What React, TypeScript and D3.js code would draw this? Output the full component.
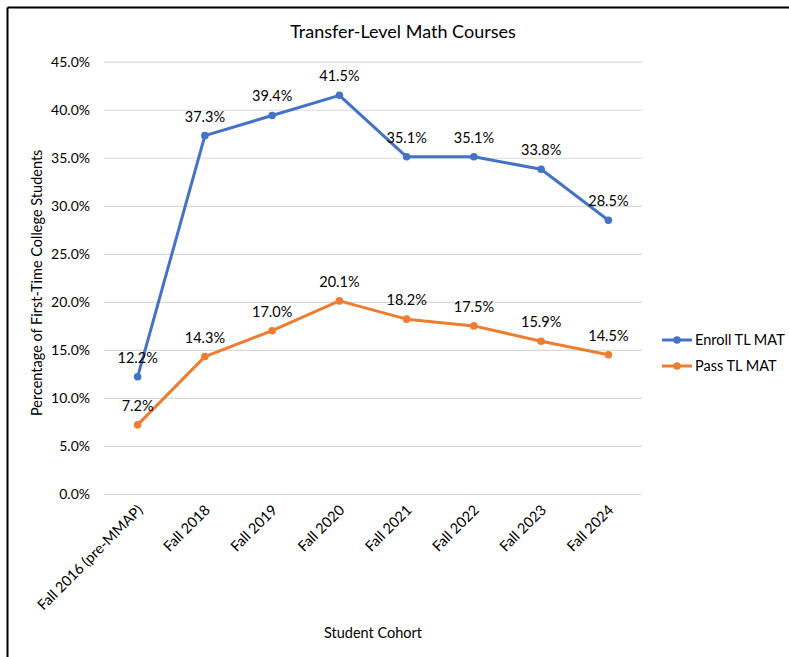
import React, { useRef, useEffect } from 'react';
import * as d3 from 'd3';

const cohorts = ['Fall 2016 (pre-MMAP)', 'Fall 2018', 'Fall 2019', 'Fall 2020', 'Fall 2021', 'Fall 2022', 'Fall 2023', 'Fall 2024'];
const enrollTL = [12.2, 37.3, 39.4, 41.5, 35.1, 35.1, 33.8, 28.5];
const passTL = [7.2, 14.3, 17.0, 20.1, 18.2, 17.5, 15.9, 14.5];
const yTicks = [0, 5, 10, 15, 20, 25, 30, 35, 40, 45];

const seriesList = [
  { name: 'Enroll TL MAT', values: enrollTL, color: '#4472C4' },
  { name: 'Pass TL MAT', values: passTL, color: '#ED7D31' },
];

const FONT = 'Lato, "Open Sans", sans-serif';
const FS = 14.5;

const App = () => {
  const ref = useRef<SVGSVGElement | null>(null);

  useEffect(() => {
    if (!ref.current) return;
    const svg = d3.select(ref.current);
    svg.selectAll('*').remove();

    const W = 789, H = 657;
    const left = 104, right = 642, top = 61.7, bottom = 494;

    svg.append('rect').attr('width', W).attr('height', H).attr('fill', '#fff');
    // frame (only top/left edges visible in the crop)
    svg.append('line').attr('x1', 7.5).attr('x2', W).attr('y1', 7.5).attr('y2', 7.5).attr('stroke', '#000').attr('stroke-width', 2);
    svg.append('line').attr('x1', 7.5).attr('x2', 7.5).attr('y1', 7.5).attr('y2', H).attr('stroke', '#000').attr('stroke-width', 2);

    const x = d3.scaleBand().domain(cohorts).range([left, right]);
    const y = d3.scaleLinear().domain([0, 45]).range([bottom, top]);
    const cx = (i: number) => (x(cohorts[i]) as number) + x.bandwidth() / 2;

    // gridlines + y labels
    const yAxis = svg.append('g').attr('transform', `translate(${left},0)`)
      .call(d3.axisLeft(y).tickValues(yTicks).tickSize(-(right - left)).tickPadding(14).tickFormat(d => `${(+d).toFixed(1)}%`));
    yAxis.select('.domain').remove();
    yAxis.selectAll('.tick line').attr('stroke', '#d9d9d9').attr('stroke-width', 1.2);
    yAxis.selectAll('.tick text').attr('font-family', FONT).attr('font-size', 14).attr('fill', '#000');

    // x labels
    svg.append('g').selectAll('text').data(cohorts).enter().append('text')
      .attr('transform', d => `translate(${(x(d) as number) + x.bandwidth() / 2 + 6},${bottom + 17}) rotate(-45)`)
      .attr('text-anchor', 'end')
      .attr('font-family', FONT).attr('font-size', FS).attr('fill', '#000')
      .text(d => d);

    // lines, markers, labels
    const line = d3.line<number>().x((_, i) => cx(i)).y(d => y(d));
    seriesList.forEach(s => {
      svg.append('path').datum(s.values).attr('fill', 'none').attr('stroke', s.color)
        .attr('stroke-width', 3).attr('stroke-linejoin', 'round').attr('d', line);
      svg.append('g').selectAll('circle').data(s.values).enter().append('circle')
        .attr('cx', (_, i) => cx(i)).attr('cy', d => y(d)).attr('r', 3.8).attr('fill', s.color);
      svg.append('g').selectAll('text').data(s.values).enter().append('text')
        .attr('x', (_, i) => cx(i)).attr('y', d => y(d) - 14)
        .attr('text-anchor', 'middle').attr('font-family', FONT).attr('font-size', FS).attr('fill', '#000')
        .text(d => `${d.toFixed(1)}%`);
    });

    // title
    svg.append('text').attr('x', 403).attr('y', 38).attr('text-anchor', 'middle')
      .attr('font-family', FONT).attr('font-size', 18).attr('fill', '#000').text('Transfer-Level Math Courses');

    // axis titles
    svg.append('text').attr('transform', `translate(42,${(top + bottom) / 2 + 5}) rotate(-90)`).attr('text-anchor', 'middle')
      .attr('font-family', FONT).attr('font-size', FS).attr('fill', '#000').text('Percentage of First-Time College Students');
    svg.append('text').attr('x', (left + right) / 2).attr('y', 638).attr('text-anchor', 'middle')
      .attr('font-family', FONT).attr('font-size', FS).attr('fill', '#000').text('Student Cohort');

    // legend
    const lg = svg.append('g').attr('transform', 'translate(662,340)');
    seriesList.forEach((s, i) => {
      const g = lg.append('g').attr('transform', `translate(0,${i * 26})`);
      g.append('line').attr('x1', 0).attr('x2', 30).attr('stroke', s.color).attr('stroke-width', 3);
      g.append('circle').attr('cx', 15).attr('r', 3.8).attr('fill', s.color);
      g.append('text').attr('x', 33).attr('dy', '0.35em').attr('font-family', FONT).attr('font-size', FS)
        .attr('fill', '#000').text(s.name);
    });
  }, []);

  return <svg ref={ref} width={789} height={657} style={{ position: 'absolute', left: 0, top: 0 }} />;
};

export default App;
